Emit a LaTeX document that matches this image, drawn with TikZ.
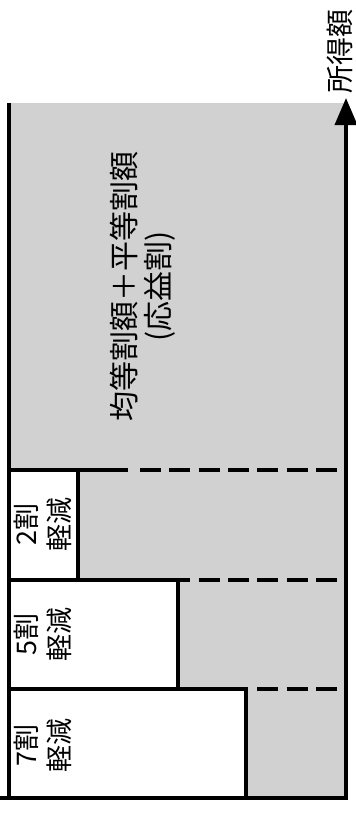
\documentclass[tikz,border=0pt]{standalone}
\usepackage{fontspec}
\newfontfamily\jpfont{Noto Sans CJK JP}
\usetikzlibrary{arrows.meta}

\tikzset{
    frame/.style={line width=3.8pt},
    areafill/.style={fill=black!18},
    boxlbl/.style={rotate=90, align=center, inner sep=0pt, font=\jpfont\fontsize{27}{33}\selectfont},
    mainlbl/.style={rotate=90, align=center, inner sep=0pt, font=\jpfont\fontsize{30}{34}\selectfont}
}

\begin{document}
\begin{tikzpicture}[x=1pt,y=-1pt]
    \useasboundingbox (0,0) rectangle (356,814);

    % draw grey area
    \fill[areafill] (9,103) rectangle (346,798);

    % draw white boxes
    \filldraw[fill=white, frame] (9,470) rectangle (78,580);
    \filldraw[fill=white, frame] (9,580) rectangle (178,689);
    \filldraw[fill=white, frame] (9,689) rectangle (246,798);

    % draw solid parts of the steps
    \draw[frame] (9,470) -- (128,470);
    \draw[frame] (9,580) -- (190,580);
    \draw[frame] (9,689) -- (248,689);

    % draw dashes
    \foreach \i in {0,...,6}
    \draw[frame] ({140+29.3*\i},470) -- ({161+29.3*\i},470);
    \foreach \i in {2,...,6}
    \draw[frame] ({140+29.3*\i},580) -- ({161+29.3*\i},580);
    \foreach \i in {4,...,6}
    \draw[frame] ({140+29.3*\i},689) -- ({161+29.3*\i},689);

    % draw axes
    \coordinate (corner) at (346,800);
    \coordinate (tip) at (346,98);
    \draw[frame] (9,103) -- (9,798);
    \draw[frame] (0,798) -- (348,798);
    \draw[frame, -{Triangle[length=27pt,width=22pt]}] (corner) -- (tip);

    % draw labels
    \node[mainlbl, font=\jpfont\fontsize{28}{34}\selectfont] (axislbl) at (340,51) {所得額};
    \node[mainlbl] (mainlbl) at (143,286) {均等割額＋平等割額\\(応益割)};
    \node[boxlbl] (lbltwo) at (43,524) {2割\\軽減};
    \node[boxlbl] (lblfive) at (43,634) {5割\\軽減};
    \node[boxlbl] (lblseven) at (43,745) {7割\\軽減};

  \end{tikzpicture}
\end{document}
